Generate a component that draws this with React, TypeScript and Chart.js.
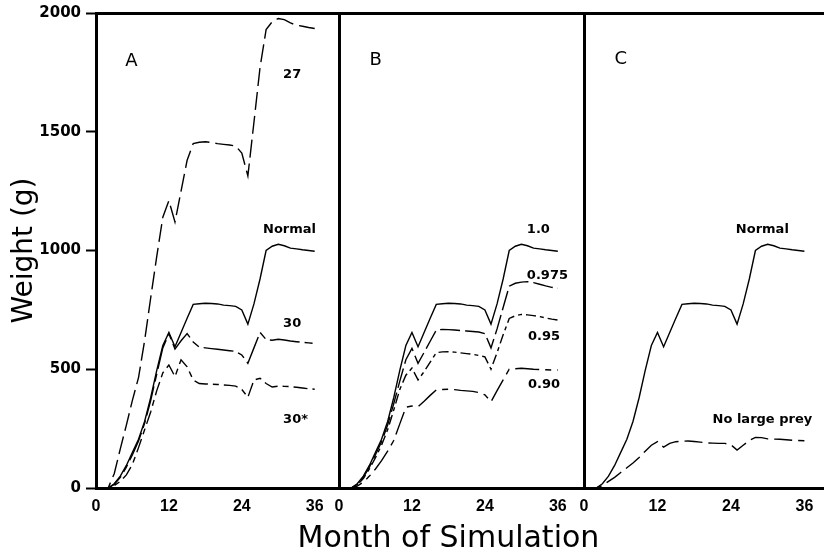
import React, { useEffect, useRef } from "react";
import { Chart, registerables } from "chart.js";

Chart.register(...registerables);

// ---- data ----
const months = [0, 1, 2, 3, 4, 5, 6, 7, 8, 9, 10, 11, 12, 13, 14, 15, 16, 17, 18, 19, 20, 21, 22, 23, 24, 25, 26, 27, 28, 29, 30, 31, 32, 33, 34, 35, 36];

const normal = [0, 0, 0, 18, 50, 95, 150, 205, 280, 380, 495, 600, 655, 595, 655, 715, 773, 776, 778, 777, 775, 770, 768, 765, 750, 690, 775, 880, 1000, 1018, 1026, 1020, 1010, 1007, 1003, 1000, 997];
const temp27 = [0, 0, 0, 60, 165, 265, 370, 465, 620, 800, 975, 1140, 1210, 1120, 1250, 1380, 1450, 1456, 1458, 1455, 1450, 1447, 1444, 1440, 1410, 1314, 1540, 1770, 1930, 1963, 1977, 1972, 1958, 1949, 1944, 1939, 1935];
const temp30 = [0, 0, 0, 15, 45, 88, 140, 198, 272, 368, 480, 590, 650, 585, 620, 650, 615, 593, 590, 587, 584, 581, 578, 575, 560, 525, 590, 655, 625, 622, 626, 623, 619, 616, 613, 611, 609];
const temp30star = [0, 0, 0, 10, 28, 55, 100, 170, 245, 320, 410, 485, 518, 469, 540, 510, 455, 440, 438, 437, 436, 434, 432, 429, 415, 382, 455, 462, 440, 425, 429, 428, 427, 424, 421, 418, 416];
const eff0975 = [0, 0, 0, 15, 45, 88, 140, 195, 265, 355, 450, 540, 588, 525, 571, 618, 665, 668, 667, 665, 663, 661, 659, 657, 650, 590, 670, 760, 850, 862, 867, 869, 865, 858, 851, 845, 841];
const eff095 = [0, 0, 0, 12, 40, 80, 128, 180, 245, 328, 415, 475, 505, 455, 490, 530, 570, 573, 574, 572, 569, 566, 563, 558, 552, 500, 570, 645, 714, 725, 731, 729, 726, 722, 716, 711, 707];
const eff090 = [0, 0, 0, 8, 25, 50, 80, 115, 155, 200, 270, 340, 345, 342, 365, 390, 413, 415, 416, 414, 411, 409, 407, 402, 392, 363, 410, 455, 500, 502, 504, 502, 500, 499, 498, 497, 497];
const noLargePrey = [0, 0, 0, 10, 28, 45, 65, 85, 105, 128, 155, 180, 195, 172, 188, 195, 197, 198, 196, 193, 190, 189, 188, 188, 182, 160, 180, 200, 213, 212, 207, 206, 205, 203, 201, 200, 199];

const xTicks = [0, 12, 24, 36];
const yTicks = [0, 500, 1000, 1500, 2000];
const panelIds = ["xA", "xB", "xC"];
const panelWeights = [243, 245, 240];
const panelMax = [40, 40.3, 39.2];

const labelTexts = ["A", "27", "Normal", "30", "30*", "B", "1.0", "0.975", "0.95", "0.90", "C", "Normal", "No large prey"];
const labelPanels = ["xA", "xA", "xA", "xA", "xA", "xB", "xB", "xB", "xB", "xB", "xC", "xC", "xC"];
const labelMonths = [4.8, 30.8, 27.5, 30.8, 30.8, 5.0, 30.9, 30.9, 31.1, 31.1, 5.0, 24.8, 21.0];
const labelValues = [1777, 1726, 1074, 678, 274, 1781, 1074, 880, 623, 421, 1785, 1074, 274];
const panelLetters = ["A", "B", "C"];

const yTitle = "Weight (g)";
const xTitle = "Month of Simulation";

const pts = (vals: number[]) => months.map((m, i) => ({ x: m, y: vals[i] }));

const line = (label: string, vals: number[], axis: string, dash: number[]) => ({
  label,
  data: pts(vals),
  xAxisID: axis,
  yAxisID: "y",
  borderColor: "#000",
  borderWidth: 1.4,
  borderDash: dash,
  pointRadius: 0,
  tension: 0,
  fill: false,
});

const annotate = {
  id: "annotate",
  afterDatasetsDraw(chart: any) {
    const ctx = chart.ctx;
    const y = chart.scales.y;
    ctx.save();
    ctx.fillStyle = "#000";
    ctx.textBaseline = "alphabetic";
    ctx.textAlign = "left";
    labelTexts.forEach((t, i) => {
      const xs = chart.scales[labelPanels[i]];
      ctx.font = panelLetters.includes(t) ? '18px "DejaVu Sans"' : 'bold 13px "DejaVu Sans"';
      ctx.fillText(t, xs.getPixelForValue(labelMonths[i]), y.getPixelForValue(labelValues[i]));
    });
    ctx.font = '30px "DejaVu Sans"';
    ctx.textAlign = "center";
    ctx.fillText(xTitle, chart.scales.xB.getPixelForValue(18), chart.chartArea.bottom + 59);
    ctx.restore();
  },
};

const xScale = (id: string, i: number) => ({
  type: "linear",
  position: "bottom",
  stack: "panels",
  stackWeight: panelWeights[i],
  min: 0,
  max: panelMax[i],
  afterBuildTicks: (s: any) => {
    s.ticks = xTicks.map((v) => ({ value: v }));
  },
  afterFit: (s: any) => {
    s.height = 68;
    s.paddingLeft = 0;
    s.paddingRight = 0;
  },
  grid: {
    drawTicks: false,
    color: (c: any) => (id !== "xA" && c.tick && c.tick.value === 0 ? "#000" : "rgba(0,0,0,0)"),
    lineWidth: 3,
  },
  border: { display: true, color: "#000", width: 3 },
  ticks: {
    color: "#000",
    padding: 9,
    maxRotation: 0,
    autoSkip: false,
    font: { family: '"Liberation Sans Narrow", "Liberation Sans"', size: 16, weight: "bold" },
    callback: (v: any) => String(v),
  },
});

export default function App() {
  const ref = useRef<HTMLCanvasElement>(null);
  useEffect(() => {
    const scales: any = {};
    panelIds.forEach((id, i) => {
      scales[id] = xScale(id, i);
    });
    scales.y = {
      type: "linear",
      position: "left",
      min: 0,
      max: 2000,
      afterBuildTicks: (s: any) => {
        s.ticks = yTicks.map((v) => ({ value: v }));
      },
      afterFit: (s: any) => {
        s.width = 96;
        s.paddingTop = 0;
        s.paddingBottom = 0;
      },
      grid: {
        color: (c: any) => (c.tick && c.tick.value === 2000 ? "#000" : "rgba(0,0,0,0)"),
        lineWidth: 3,
        tickColor: "#000",
        tickLength: 10,
        tickWidth: 2,
        drawTicks: true,
      },
      border: { display: true, color: "#000", width: 3 },
      ticks: {
        color: "#000",
        padding: 5,
        font: { family: '"DejaVu Sans"', size: 15, weight: "bold" },
        callback: (v: any) => String(v),
      },
      title: {
        display: true,
        text: yTitle,
        color: "#000",
        font: { family: '"DejaVu Sans"', size: 28 },
        padding: { top: 8, bottom: 0 },
      },
    };

    const chart = new Chart(ref.current as HTMLCanvasElement, {
      type: "line",
      data: {
        datasets: [
          line("27", temp27, "xA", [18, 6]),
          line("Normal", normal, "xA", []),
          line("30", temp30, "xA", [30, 5, 8, 5]),
          line("30*", temp30star, "xA", [14, 5, 6, 5]),
          line("1.0", normal, "xB", []),
          line("0.975", eff0975, "xB", [20, 5]),
          line("0.95", eff095, "xB", [10, 4, 4, 4]),
          line("0.90", eff090, "xB", [24, 6, 6, 6]),
          line("Normal", normal, "xC", []),
          line("No large prey", noLargePrey, "xC", [18, 6]),
        ] as any,
      },
      options: {
        responsive: false,
        animation: false,
        layout: { padding: { top: 13, right: 0, bottom: 0, left: 0 } },
        plugins: { legend: { display: false }, tooltip: { enabled: false } },
        scales,
      } as any,
      plugins: [annotate],
    });
    return () => chart.destroy();
  }, []);

  return (
    <div style={{ position: "absolute", left: 0, top: 0, width: 824, height: 556, background: "#fff" }}>
      <canvas ref={ref} width={824} height={556} style={{ display: "block", width: 824, height: 556 }} />
    </div>
  );
}
